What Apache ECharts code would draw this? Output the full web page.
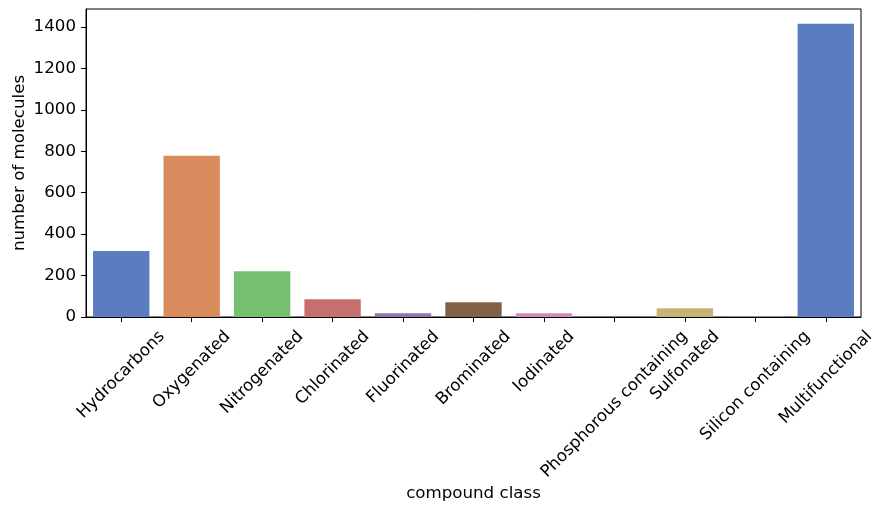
<!DOCTYPE html>
<html>
<head>
<meta charset="utf-8">
<script src="https://cdn.jsdelivr.net/npm/echarts@6/dist/echarts.min.js"></script>
<style>
html,body{margin:0;padding:0;background:#fff;}
#chart{width:885px;height:514px;}
</style>
</head>
<body>
<div id="chart"></div>
<script>
const categories = ['Hydrocarbons','Oxygenated','Nitrogenated','Chlorinated','Fluorinated','Brominated','Iodinated','Phosphorous containing','Sulfonated','Silicon containing','Multifunctional'];
const values = [319, 779, 221, 86, 18, 71, 18, 5, 42, 1, 1416];
const barColors = ['#597dbf','#da8b5e','#76bf71','#c76e6e','#9475ab','#826246','#d08abb','#797979','#c7b475','#8cc3d9','#597dbf'];
const yTicks = [0, 200, 400, 600, 800, 1000, 1200, 1400];
const yMax = 1487;

const FONT = 'DejaVu Sans';
const FS = 16.67;
const ctx = document.createElement('canvas').getContext('2d');
ctx.font = FS + 'px "' + FONT + '"';
const rich = {};
categories.forEach((c, i) => {
  const w = ctx.measureText(c).width;
  const h = FS * 1.164;
  const P = (w + h) / 2;
  rich['l' + i] = {fontSize: FS, fontFamily: FONT, color: '#000', padding: [P, P, 0, 0]};
});

const chart = echarts.init(document.getElementById('chart'), null, {renderer: 'canvas'});
chart.setOption({
  animation: false,
  backgroundColor: '#fff',
  grid: {left: 86, right: 24, top: 9, bottom: 197, show: true, borderColor: '#000', borderWidth: 1, backgroundColor: 'transparent', containLabel: false, outerBoundsMode: 'none'},
  xAxis: {
    type: 'category',
    data: categories,
    name: 'compound class',
    nameLocation: 'middle',
    nameGap: 168,
    nameMoveOverlap: false,
    nameTextStyle: {fontSize: FS, fontFamily: FONT, color: '#000'},
    axisLine: {show: true, lineStyle: {color: '#000', width: 1}},
    axisTick: {show: true, alignWithLabel: true, length: 5, lineStyle: {color: '#000', width: 1}},
    axisLabel: {
      interval: 0, rotate: 45, margin: 10, align: 'center', verticalAlign: 'middle',
      fontSize: FS, fontFamily: FONT, color: '#000',
      formatter: (v, i) => '{l' + i + '|' + v + '}',
      rich: rich
    },
    splitLine: {show: false}
  },
  yAxis: {
    type: 'value',
    min: 0, max: yMax, interval: 200,
    name: 'number of molecules',
    nameLocation: 'middle',
    nameGap: 58,
    nameMoveOverlap: false,
    nameTextStyle: {fontSize: FS, fontFamily: FONT, color: '#000'},
    axisLine: {show: true, lineStyle: {color: '#000', width: 1}},
    axisTick: {show: true, length: 5, lineStyle: {color: '#000', width: 1}, customValues: yTicks},
    axisLabel: {margin: 10, fontSize: FS, fontFamily: FONT, color: '#000', customValues: yTicks, formatter: v => String(v)},
    splitLine: {show: false}
  },
  series: [{
    type: 'bar',
    barCategoryGap: '20%',
    data: values.map((v, i) => ({value: v, itemStyle: {color: barColors[i]}})),
    silent: true
  }]
});
</script>
</body>
</html>
